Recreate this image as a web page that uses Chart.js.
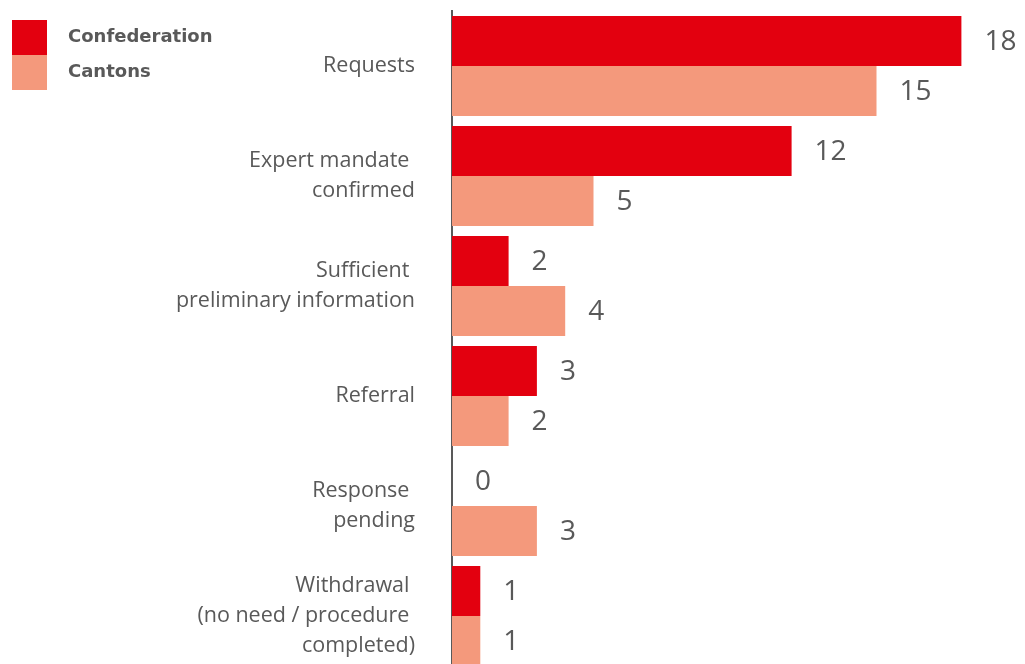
<!DOCTYPE html>
<html>
<head>
<meta charset="utf-8">
<script src="https://cdn.jsdelivr.net/npm/chart.js@4/dist/chart.umd.min.js"></script>
<style>
  html, body { margin: 0; padding: 0; background: #ffffff; overflow: hidden; }
  #wrap { position: absolute; left: 0; top: 0; width: 1025px; height: 671px; }
</style>
</head>
<body>
<div id="wrap"><canvas id="c"></canvas></div>
<script>
const categories = [
  ["Requests"],
  ["Expert mandate ", "confirmed"],
  ["Sufficient ", "preliminary information"],
  ["Referral"],
  ["Response ", "pending"],
  ["Withdrawal ", "(no need / procedure ", "completed)"]
];
const seriesNames = ["Confederation", "Cantons"];
const confederation = [18, 12, 2, 3, 0, 1];
const cantons = [15, 5, 4, 2, 3, 1];
const colors = ["#E3000F", "#F4997C"];

const valueLabels = {
  id: 'valueLabels',
  afterDatasetsDraw(chart) {
    const ctx = chart.ctx;
    ctx.save();
    ctx.fillStyle = '#595959';
    ctx.font = '28px "Open Sans", Inter, sans-serif';
    ctx.textAlign = 'left';
    ctx.textBaseline = 'middle';
    chart.data.datasets.forEach((ds, i) => {
      const meta = chart.getDatasetMeta(i);
      meta.data.forEach((bar, j) => {
        ctx.fillText(String(ds.data[j]), bar.x + 23, bar.y + 1);
      });
    });
    ctx.restore();
  }
};

const customLegend = {
  id: 'customLegend',
  afterDraw(chart) {
    const ctx = chart.ctx;
    ctx.save();
    chart.data.datasets.forEach((ds, i) => {
      const y = 20 + i * 35;
      ctx.fillStyle = ds.backgroundColor;
      ctx.fillRect(12, y, 35, 35);
      ctx.fillStyle = '#595959';
      ctx.font = 'bold 18px "DejaVu Sans", sans-serif';
      ctx.textAlign = 'left';
      ctx.textBaseline = 'middle';
      ctx.fillText(ds.label, 68, y + 17);
    });
    ctx.restore();
  }
};

new Chart(document.getElementById('c'), {
  type: 'bar',
  data: {
    labels: categories,
    datasets: [
      { label: seriesNames[0], data: confederation, backgroundColor: colors[0] },
      { label: seriesNames[1], data: cantons, backgroundColor: colors[1] }
    ]
  },
  options: {
    indexAxis: 'y',
    responsive: true,
    maintainAspectRatio: false,
    animation: false,
    layout: { padding: { top: 11, right: 7, left: 0, bottom: 0 } },
    datasets: { bar: { categoryPercentage: 100 / 110, barPercentage: 1.0 } },
    plugins: { legend: { display: false }, tooltip: { enabled: false } },
    scales: {
      x: { display: false, min: 0, max: 20 },
      y: {
        afterFit(scale) { scale.width = 452; scale.paddingTop = 0; scale.paddingBottom = 0; },
        grid: { display: false, drawTicks: false },
        border: { display: true, color: '#595959', width: 2 },
        ticks: {
          padding: 37,
          color: '#595959',
          font: { family: '"Open Sans", Inter, sans-serif', size: 21.5, lineHeight: 1.4 }
        }
      }
    }
  },
  plugins: [valueLabels, customLegend]
});
</script>
</body>
</html>
